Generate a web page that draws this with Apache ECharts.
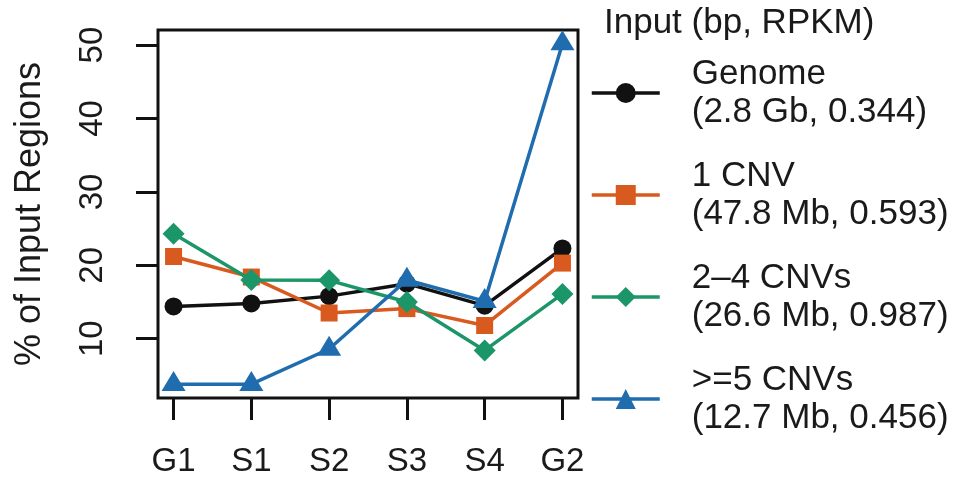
<!DOCTYPE html>
<html>
<head>
<meta charset="utf-8">
<script src="https://cdn.jsdelivr.net/npm/echarts@6/dist/echarts.min.js"></script>
<style>
html,body{margin:0;padding:0;background:#fff;}
#chart{width:956px;height:481px;}
</style>
</head>
<body>
<div id="chart"></div>
<script>
// ---- data ----
const categories = ['G1', 'S1', 'S2', 'S3', 'S4', 'G2'];
const yTicks = [10, 20, 30, 40, 50];
const seriesNames = [
  'Genome\n(2.8 Gb, 0.344)',
  '1 CNV\n(47.8 Mb, 0.593)',
  '2\u20134 CNVs\n(26.6 Mb, 0.987)',
  '>=5 CNVs\n(12.7 Mb, 0.456)'
];
const genome = [14.4, 14.8, 15.8, 17.5, 14.5, 22.3];
const cnv1 = [21.2, 18.4, 13.5, 14.1, 11.8, 20.3];
const cnv2to4 = [24.3, 18.0, 17.95, 15.0, 8.4, 16.1];
const cnv5plus = [3.8, 3.8, 8.6, 18.0, 15.1, 50.2];
const legendTitle = 'Input (bp, RPKM)';
const yTitle = '% of Input Regions';

// ---- styling ----
const FONT = "'Liberation Sans', Arial, Helvetica, sans-serif";
const TXT = '#1a1a1a';
const colors = ['#111111', '#d95a1e', '#1b9669', '#1f6cae'];
const symbols = ['circle', 'rect', 'diamond', 'triangle'];
const symbolSizes = [18, 17, [22, 22], [24, 20]];
const symbolOffsets = [[0, 0], [0, 0], [0, 0], [0, -3.3]];
const allData = [genome, cnv1, cnv2to4, cnv5plus];
const catIdx = categories.map((c, i) => i + 1);

const chart = echarts.init(document.getElementById('chart'), null, {renderer: 'canvas'});
const option = {
  animation: false,
  backgroundColor: '#ffffff',
  textStyle: {fontFamily: FONT, color: TXT},
  title: {
    text: legendTitle,
    left: 604, top: 6, padding: 0,
    textStyle: {fontFamily: FONT, fontSize: 35, fontWeight: 'normal', color: TXT, lineHeight: 35}
  },
  legend: {
    orient: 'vertical',
    left: 590, top: 51, padding: 0,
    itemWidth: 68, itemHeight: 25, itemGap: 18,
    selectedMode: false,
    lineStyle: {width: 3.5},
    textStyle: {fontFamily: FONT, fontSize: 35, color: TXT, lineHeight: 38, padding: [8, 0, 0, 27]},
    data: seriesNames
  },
  grid: {
    left: 158, right: 378, top: 30, bottom: 83,
    show: true, borderColor: '#111111', borderWidth: 3, backgroundColor: 'transparent'
  },
  xAxis: {
    type: 'value', min: 0.8, max: 6.2,
    axisLine: {show: false},
    splitLine: {show: false},
    axisTick: {show: true, length: 22, inside: false, customValues: catIdx, lineStyle: {color: '#111111', width: 3}},
    axisLabel: {
      customValues: catIdx, margin: 47,
      fontFamily: FONT, fontSize: 33, color: TXT, lineHeight: 33,
      formatter: v => categories[Math.round(v) - 1] || ''
    }
  },
  yAxis: {
    type: 'value', min: 1.92, max: 52.06,
    name: yTitle, nameLocation: 'middle', nameGap: 110,
    nameTextStyle: {fontFamily: FONT, fontSize: 36, color: TXT, lineHeight: 36},
    axisLine: {show: false},
    splitLine: {show: false},
    axisTick: {show: true, length: 22, inside: false, customValues: yTicks, lineStyle: {color: '#111111', width: 3}},
    axisLabel: {
      customValues: yTicks, rotate: 90, margin: 49,
      fontFamily: FONT, fontSize: 33, color: TXT, lineHeight: 33
    }
  },
  series: allData.map((vals, k) => ({
    name: seriesNames[k],
    type: 'line',
    z: 2 + k,
    data: vals.map((v, i) => [catIdx[i], v]),
    symbol: symbols[k],
    symbolSize: symbolSizes[k],
    symbolOffset: symbolOffsets[k],
    showAllSymbol: true,
    lineStyle: {color: colors[k], width: 3.5},
    itemStyle: {color: colors[k], borderWidth: 0},
    emphasis: {disabled: true}
  }))
};
chart.setOption(option);
</script>
</body>
</html>
